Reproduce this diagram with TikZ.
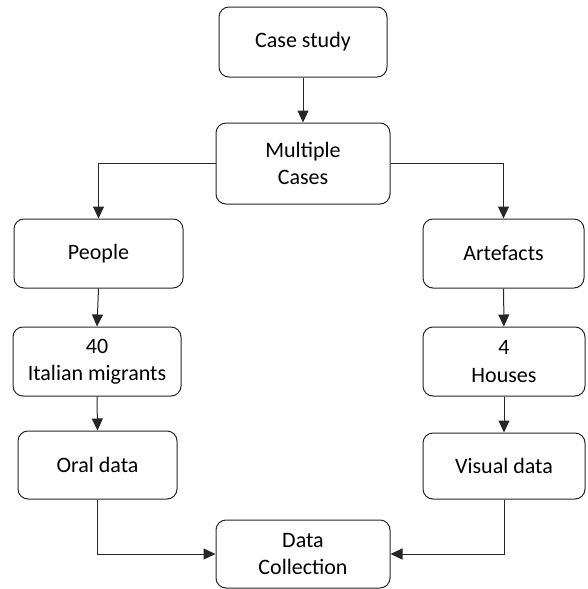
\documentclass[tikz,border=0pt]{standalone}
\usepackage{fontspec}
\setmainfont{Carlito}
\usetikzlibrary{arrows.meta}
\begin{document}
\begin{tikzpicture}[x=1pt,y=-1pt,
  box/.style={draw=black!85, line width=1pt, rounded corners=10pt, align=center,
    inner sep=0pt, font=\fontsize{22}{27.5}\selectfont},
  conn/.style={draw=black!85, line width=1pt, -{Triangle[length=12pt,width=11pt]}}]
\useasboundingbox (0,0) rectangle (587,589);
\node[box, minimum width=168pt, minimum height=70pt] (cs) at (303,42) {Case study};
\node[box, minimum width=174pt, minimum height=81pt] (mc) at (303,163.5) {Multiple\\Cases};
\node[box, minimum width=169pt, minimum height=69pt] (pe) at (98.5,253.5) {People};
\node[box, minimum width=161pt, minimum height=69pt] (ar) at (503.5,253.5) {Artefacts};
\node[box, minimum width=168pt, minimum height=69pt] (it) at (97,361.5) {40\\Italian migrants};
\node[box, minimum width=162pt, minimum height=69pt] (ho) at (504,361.5) {4\\Houses};
\node[box, minimum width=159pt, minimum height=68pt] (or) at (97.5,465) {Oral data};
\node[box, minimum width=162pt, minimum height=66pt] (vi) at (504,466) {Visual data};
\node[box, minimum width=174pt, minimum height=68pt] (dc) at (303,554) {Data\\Collection};
\draw[conn] (cs) -- (mc);
\draw[conn] (mc.west) -| (pe.north);
\draw[conn] (mc.east) -| (ar.north);
\draw[conn] (pe.south) -- (it.north);
\draw[conn] (ar) -- (ho);
\draw[conn] (it.south) -- (or.north);
\draw[conn] (ho) -- (vi);
\draw[conn] (or.south) |- (dc.west);
\draw[conn] (vi.south) |- (dc.east);
\end{tikzpicture}
\end{document}
